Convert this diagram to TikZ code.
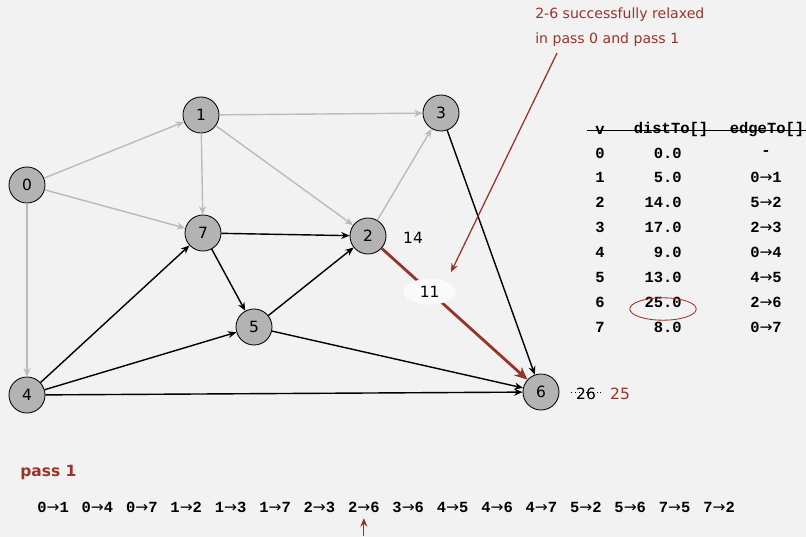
\documentclass[tikz,border=0pt]{standalone}
\usepackage{fontspec}
\setmainfont{DejaVu Sans}
\setmonofont{Liberation Mono}
\newfontfamily\arrowfont{DejaVu Sans}
\newcommand\ra{{\arrowfont\mdseries →}}
\usetikzlibrary{arrows.meta,shapes.geometric}

\definecolor{bgcol}{RGB}{242,242,242}
\definecolor{nodegray}{RGB}{179,179,179}
\definecolor{edgegray}{RGB}{187,187,187}
\definecolor{relaxred}{RGB}{150,52,42}

\begin{document}
\begin{tikzpicture}[x=0.025cm, y=-0.025cm,
    vertex/.style={circle, draw, fill=nodegray, line width=0.6pt, minimum size=0.9cm, inner sep=0pt, font=\fontsize{11}{13}\selectfont},
    grayedge/.style={draw=edgegray, line width=1pt, -{Stealth[length=6pt,width=5pt]}},
    blackedge/.style={draw=black, line width=1pt, -{Stealth[length=6pt,width=5pt]}},
    rededge/.style={draw=relaxred, line width=2pt, -{Stealth[length=9pt,width=8pt]}},
    notearrow/.style={draw=relaxred, line width=0.9pt, -{Stealth[length=6pt,width=5pt]}},
    weight/.style={font=\fontsize{11}{13}\selectfont},
    tabtext/.style={font=\fontsize{11}{13}\selectfont\ttfamily\bfseries, inner sep=0pt},
    notetext/.style={text=relaxred, font=\fontsize{10}{12}\selectfont, inner sep=0pt, anchor=west}]

% Background and frame
\fill[bgcol] (0,0) rectangle (806,537);
\useasboundingbox (0,0) rectangle (806,537);

% Vertices
\foreach \n/\x/\y in {0/27/185, 1/201/115, 3/441/113, 7/203/233, 2/368/236, 5/254/327, 4/27/395, 6/541/392} {
    \node[vertex] (v\n) at (\x,\y) {\n};
}

% Edges not yet relaxed in this pass
\foreach \a/\b in {0/1, 0/7, 0/4, 1/7, 1/3, 1/2, 2/3} {
    \draw[grayedge] (v\a) -- (v\b);
}

% Remaining edges
\foreach \a/\b in {7/2, 7/5, 5/2, 4/7, 4/5, 4/6, 5/6, 3/6} {
    \draw[blackedge] (v\a) -- (v\b);
}

% Edge being relaxed
\draw[rededge] (v2) -- (v6) node[pos=0.33, fill=white!60!bgcol, ellipse, inner sep=1pt, minimum width=1.3cm, minimum height=0.65cm, weight] (w26) {11};
\node[weight] (d2) at (413,238) {14};
\node[weight] (d6old) at (586,394) {26};
\draw[dotted, line width=0.6pt] ([yshift=1pt]d6old.west) -- ([yshift=1pt]d6old.east);
\node[weight, text=relaxred] (d6new) at (620,394) {25};

% Table of distTo[] and edgeTo[]
\node[tabtext] (hv) at (600,130) {v};
\node[tabtext] (hd) at (671,130) {distTo[]};
\node[tabtext] (he) at (767,130) {edgeTo[]};
\draw[line width=0.6pt] (587,130) -- (806,130);
\foreach \v/\d/\e [count=\i from 0] in {0/0.0/-, 1/5.0/0\ra1, 2/14.0/5\ra2, 3/17.0/2\ra3, 4/9.0/0\ra4, 5/13.0/4\ra5, 6/25.0/2\ra6, 7/8.0/0\ra7} {
    \node[tabtext] (tv\v) at (600,153+24.9*\i) {\v};
    \node[tabtext, anchor=east] (td\v) at (682,153+24.9*\i) {\d};
    \node[tabtext] (te\v) at (766,153+24.9*\i) {\e};
}
\draw[relaxred, line width=0.6pt] (663,309) ellipse [x radius=0.83cm, y radius=0.28cm];

% Note about edge 2-6
\node[notetext] (note1) at (535,15) {2-6 successfully relaxed};
\node[notetext] (note2) at (535,40) {in pass 0 and pass 1};
\coordinate (notetip) at (451,272);
\draw[notearrow] ([xshift=0.55cm,yshift=-0.15cm]note2.south west) -- (notetip);

% Pass and edge order
\node[anchor=west, inner sep=0pt, text=relaxred, font=\fontsize{11}{13}\selectfont\bfseries] (pass) at (20,472) {pass 1};
\foreach \e [count=\k from 0] in {0\ra1, 0\ra4, 0\ra7, 1\ra2, 1\ra3, 1\ra7, 2\ra3, 2\ra6, 3\ra6, 4\ra5, 4\ra6, 4\ra7, 5\ra2, 5\ra6, 7\ra5, 7\ra2} {
    \node[tabtext, anchor=west] (s\k) at (37+44.4*\k,507) {\e};
}
\coordinate (passfoot) at (s7.south |- 0,536);
\draw[notearrow, shorten >=4pt] (passfoot) -- (s7.south);

\end{tikzpicture}
\end{document}
